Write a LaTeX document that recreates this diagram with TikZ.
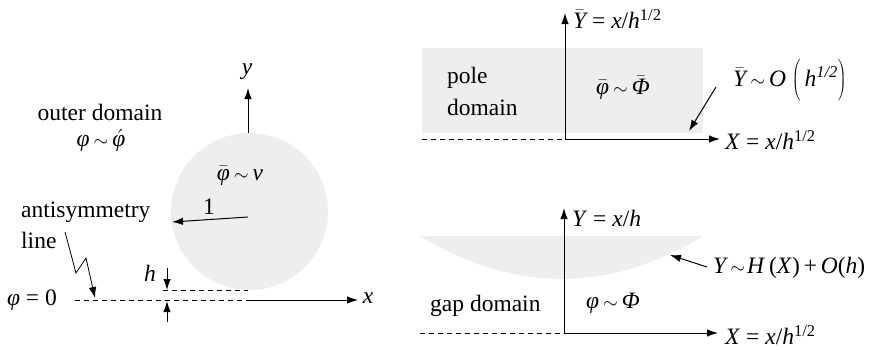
\documentclass[tikz,border=0pt]{standalone}
\usepackage{fix-cm}
\usepackage{fontspec}
\setmainfont{Liberation Serif}
\usetikzlibrary{arrows.meta}
\definecolor{paleg}{RGB}{237,238,238}
\newcommand{\mi}[1]{\textit{#1}}
\newcommand{\bmi}[1]{$\bar{\mbox{\itshape #1}}$}
\newcommand{\sm}{\hspace{4pt}{\fontsize{19}{20}\selectfont$\sim$}\hspace{4pt}}
\tikzset{
  ln/.style={line width=1pt},
  arr/.style={line width=1pt,-{Latex[length=11pt,width=7.5pt]}},
  dsh/.style={line width=1pt,dash pattern=on 5pt off 4pt},
  lbl/.style={inner sep=0pt,font=\fontsize{23.5}{28}\selectfont},
}
\begin{document}
\begin{tikzpicture}[x=1pt,y=-1pt]
\useasboundingbox (0,0) rectangle (875,349);
% ---------- left panel ----------
\fill[paleg] (249.5,211.5) circle (78.5pt);
\coordinate (O) at (248,300);
\coordinate (ybase) at (248,133);
\coordinate (ytip) at (248,88);
\coordinate (xtip) at (358,300);
\coordinate (dl) at (75,300);
\coordinate (hl) at (163,290.7);
\coordinate (hr) at (248,290.7);
\draw[arr] (ybase) -- (ytip);
\draw[arr] (O) -- (xtip);
\draw[dsh] (dl) -- (O);
\draw[dsh] (hl) -- (hr);
\coordinate (ht0) at (167,268);
\coordinate (ht1) at (167,290);
\coordinate (hb0) at (167,322);
\coordinate (hb1) at (167,301);
\draw[arr] (ht0) -- (ht1);
\draw[arr] (hb0) -- (hb1);
\coordinate (c) at (248,217);
\coordinate (rtip) at (172,222);
\draw[arr] (c) -- (rtip);
\coordinate (z0) at (65,232);
\coordinate (z1) at (76,273);
\coordinate (z2) at (86,258);
\coordinate (z3) at (95,298);
\draw[line width=0.8pt,-{Latex[length=11pt,width=7.5pt]}] (z0) -- (z1) -- (z2) -- (z3);
\node[lbl] (ylab) at (247,72) {\mi{y}};
\node[lbl] (xlab) at (368,298) {\mi{x}};
\node[lbl] (outer) at (100,112) {outer domain};
\node[lbl] (outerphi) at (101,140) {\mi{φ}\sm$\acute{\mbox{\itshape φ}}$};
\node[lbl] (inner) at (240,176) {\bmi{φ}\sm\mi{ν}};
\node[lbl] (one) at (209,207) {1};
\node[lbl,anchor=west] (anti) at (21,212) {antisymmetry};
\node[lbl,anchor=west] (line) at (21,240) {line};
\node[lbl] (hlab) at (150,273) {\mi{h}};
\node[lbl] (phi0) at (32,300) {\mi{φ} = 0};
% ---------- right top ----------
\fill[paleg] (422,48) rectangle (703,133);
\coordinate (O2) at (565,139);
\coordinate (Y2tip) at (565,13);
\coordinate (X2tip) at (720,139);
\coordinate (d2) at (422,139);
\draw[arr] (O2) -- (Y2tip);
\draw[arr] (O2) -- (X2tip);
\draw[dsh] (d2) -- (O2);
\coordinate (a2s) at (716,87);
\coordinate (a2e) at (689,131);
\draw[arr] (a2s) -- (a2e);
\node[lbl,anchor=west] (Ybar) at (573,19) {\bmi{Y} = \mi{x}/\mi{h}\textsuperscript{1/2}};
\node[lbl,anchor=west] (X2) at (725,140) {\mi{X} = \mi{x}/\mi{h}\textsuperscript{1/2}};
\node[lbl,anchor=west] (pole) at (447,78) {pole};
\node[lbl,anchor=west] (pdom) at (447,107) {domain};
\node[lbl] (pphi) at (623,88) {\bmi{φ}\sm\bmi{Φ}};
\node[lbl,anchor=west] (ord) at (733,80) {\bmi{Y}\sm\mi{O}\ $\left(\vrule height 28pt depth 14pt width 0pt\,\mbox{\itshape h\textsuperscript{1/2}}\right)$};
% ---------- right bottom ----------
\fill[paleg] (420,236) -- (703,236) .. controls (608.8,293.3) and (514.2,293.3) .. (420,236) -- cycle;
\coordinate (O3) at (564,333);
\coordinate (Y3tip) at (564,208);
\coordinate (X3tip) at (718,333);
\coordinate (d3) at (420,333);
\draw[arr] (O3) -- (Y3tip);
\draw[arr] (O3) -- (X3tip);
\draw[dsh] (d3) -- (O3);
\coordinate (a3s) at (707,267);
\coordinate (a3e) at (670,255);
\draw[arr] (a3s) -- (a3e);
\node[lbl,anchor=west] (Y3) at (572,218) {\mi{Y} = \mi{x}/\mi{h}};
\node[lbl,anchor=west] (X3) at (725,335) {\mi{X} = \mi{x}/\mi{h}\textsuperscript{1/2}};
\node[lbl,anchor=west] (gap) at (430,306) {gap domain};
\node[lbl] (gphi) at (613,303) {\mi{φ}\sm\mi{Φ}};
\node[lbl,anchor=west] (HX) at (713,268) {\mi{Y}\hspace{2pt}{\fontsize{19}{20}\selectfont$\sim$}\hspace{2pt}\mi{H}\,(\mi{X})\,+\,\mi{O}(\mi{h})};
\end{tikzpicture}
\end{document}
